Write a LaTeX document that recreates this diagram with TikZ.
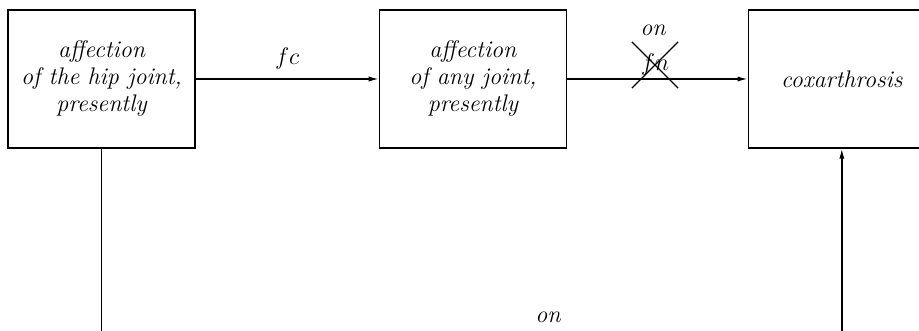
\documentclass[tikz,border=0pt]{standalone}
\usetikzlibrary{positioning,arrows.meta,shapes.misc}
\begin{document}
\begin{tikzpicture}[x=1pt,y=1pt,
    box/.style={draw,line width=0.7pt,minimum width=93.5pt,minimum height=69pt,inner sep=0pt,align=center,
      font=\fontsize{12}{13.5}\selectfont\itshape},
    link/.style={line width=0.7pt,-{Latex[length=5pt,width=2.6pt]}}]
    \useasboundingbox (0,0) rectangle (459.5,-165.5);
    \clip (0,0) rectangle (459.5,-165.5);
    \node[box] (hip) at (50.75,-39.5) {affection\\of the hip joint,\\presently};
    \node[box,right=91.5pt of hip] (any) {affection\\of any joint,\\presently};
    \node[box,right=90.25pt of any] (coxa) {coxarthrosis};
    \coordinate (bottom) at (0,-165.5);
    \draw[link](hip)--node[above=1pt,font=\fontsize{12}{13}\selectfont]{$fc$}(any);
    \draw[link](any)--(coxa);
    \node[cross out,draw,line width=0.6pt,minimum width=22.5pt,minimum height=22.5pt,inner sep=0pt,
      font=\fontsize{12}{13}\selectfont] (fn) at (327.5,-32.5) {$fn$};
    \node[font=\fontsize{12}{13}\selectfont\itshape] (on1) at (326.5,-15) {on};
    \draw[line width=0.7pt](hip.south)--(hip.south |- bottom);
    \draw[link](coxa.south |- bottom)--(coxa.south);
    \node[font=\fontsize{12}{13}\selectfont\itshape] (on2) at (274,-158.5) {on};
\end{tikzpicture}
\end{document}
